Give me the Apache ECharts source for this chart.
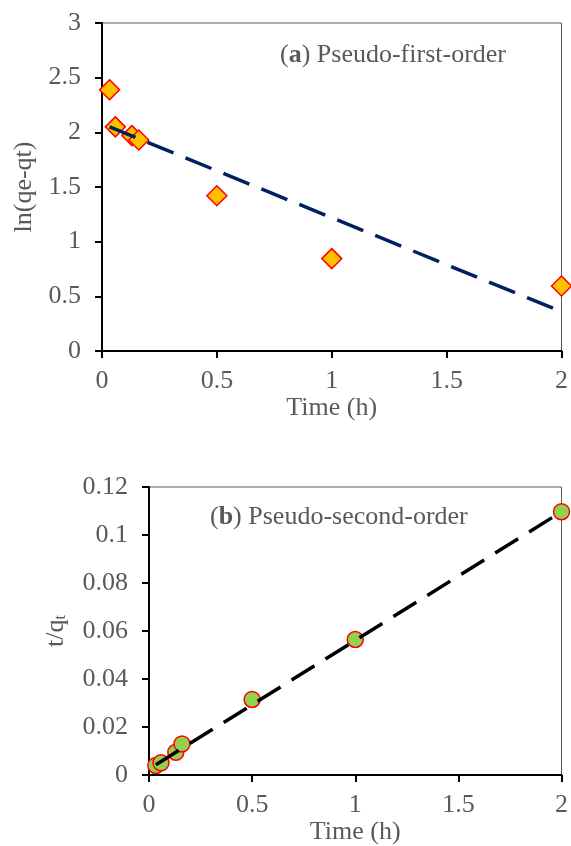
<!DOCTYPE html>
<html>
	<head>
		<meta charset="utf-8">
		<title>kinetics</title>
		<script src="https://cdn.jsdelivr.net/npm/echarts@6/dist/echarts.min.js"></script>
		<style>
			body { margin: 0; background: #fff; }
		</style>
	</head>
	<body>
		<div id="kineticsChart" style="width:571px;height:846px;"></div>
		<script>
			// 数据
			var times = [0.033, 0.058, 0.13, 0.16, 0.5, 1, 2];
			var lnQ = [2.39, 2.05, 1.97, 1.93, 1.42, 0.845, 0.595];
			var tOverQ = [0.0040, 0.0051, 0.0095, 0.0130, 0.0315, 0.0565, 0.1097];
			// 趋势线两端
			var fitX = [0.033, 2];
			var fitFirst = [2.05, 0.36];
			var fitSecond = [0.0043, 0.1097];

			var font = "'Liberation Serif', 'Times New Roman', serif";
			var grey = '#595959';

			function pairs(xs, ys) {
				var out = [];
				for (var i = 0; i < xs.length; i++) {
					out.push([xs[i], ys[i]]);
				}
				return out;
			}

			function xAxisCfg(idx) {
				return {
					type: 'value',
					gridIndex: idx,
					min: 0,
					max: 2,
					interval: 0.5,
					name: 'Time (h)',
					nameLocation: 'middle',
					nameGap: 40,
					nameTextStyle: { fontFamily: font, fontSize: 26, color: grey },
					axisLine: { show: true, onZero: false, lineStyle: { color: '#000', width: 2 } },
					axisTick: { show: true, length: 7, lineStyle: { color: '#000', width: 2 } },
					axisLabel: { fontFamily: font, fontSize: 26, color: grey, margin: 17 },
					splitLine: { show: false }
				};
			}

			function yAxisCfg(idx, max, interval, name, gap) {
				return {
					type: 'value',
					gridIndex: idx,
					min: 0,
					max: max,
					interval: interval,
					name: name,
					nameLocation: 'middle',
					nameGap: gap,
					nameTextStyle: {
						fontFamily: font, fontSize: 26, color: grey,
						rich: { sub: { fontFamily: font, fontSize: 16, color: grey, verticalAlign: 'bottom', padding: [10, 0, 0, 0] } }
					},
					axisLine: { show: true, onZero: false, lineStyle: { color: '#000', width: 2 } },
					axisTick: { show: true, length: 7, lineStyle: { color: '#000', width: 2 } },
					axisLabel: { fontFamily: font, fontSize: 26, color: grey, margin: 21 },
					splitLine: { show: false }
				};
			}

			var chart = echarts.init(document.getElementById('kineticsChart'));
			var option = {
				animation: false,
				title: [{
					text: '({b|a}) Pseudo-first-order',
					left: 280,
					top: 42,
					padding: 0,
					textStyle: {
						fontFamily: font, fontSize: 26, fontWeight: 'normal', color: grey,
						rich: { b: { fontFamily: font, fontSize: 26, fontWeight: 'bold', color: grey } }
					}
				}, {
					text: '({b|b}) Pseudo-second-order',
					left: 210,
					top: 504,
					padding: 0,
					textStyle: {
						fontFamily: font, fontSize: 26, fontWeight: 'normal', color: grey,
						rich: { b: { fontFamily: font, fontSize: 26, fontWeight: 'bold', color: grey } }
					}
				}],
				grid: [{
					left: 102, top: 23, width: 460, height: 328,
					show: true, borderColor: grey, borderWidth: 1
				}, {
					left: 149, top: 487, width: 414, height: 289,
					show: true, borderColor: grey, borderWidth: 1
				}],
				xAxis: [xAxisCfg(0), xAxisCfg(1)],
				yAxis: [
					yAxisCfg(0, 3, 0.5, 'ln(qe-qt)', 64),
					yAxisCfg(1, 0.12, 0.02, 't/q{sub|t}', 80)
				],
				series: [{
					type: 'scatter',
					xAxisIndex: 0,
					yAxisIndex: 0,
					symbol: 'diamond',
					symbolSize: 20,
					itemStyle: { color: '#FFC000', borderColor: '#FF0000', borderWidth: 1.5, opacity: 1 },
					data: pairs(times, lnQ)
				}, {
					type: 'line',
					xAxisIndex: 0,
					yAxisIndex: 0,
					showSymbol: false,
					lineStyle: { color: '#002060', width: 3.5, type: [28, 13], cap: 'butt' },
					data: pairs(fitX, fitFirst)
				}, {
					type: 'scatter',
					xAxisIndex: 1,
					yAxisIndex: 1,
					symbol: 'circle',
					symbolSize: 16,
					itemStyle: { color: '#92D050', borderColor: '#FF0000', borderWidth: 1.5, opacity: 1 },
					data: pairs(times, tOverQ)
				}, {
					type: 'line',
					xAxisIndex: 1,
					yAxisIndex: 1,
					showSymbol: false,
					lineStyle: { color: '#000', width: 3.5, type: [27, 13], cap: 'butt' },
					data: pairs(fitX, fitSecond)
				}]
			};
			chart.setOption(option);
			window.onresize = function() {
				chart.resize();
			};
		</script>
	</body>
</html>
